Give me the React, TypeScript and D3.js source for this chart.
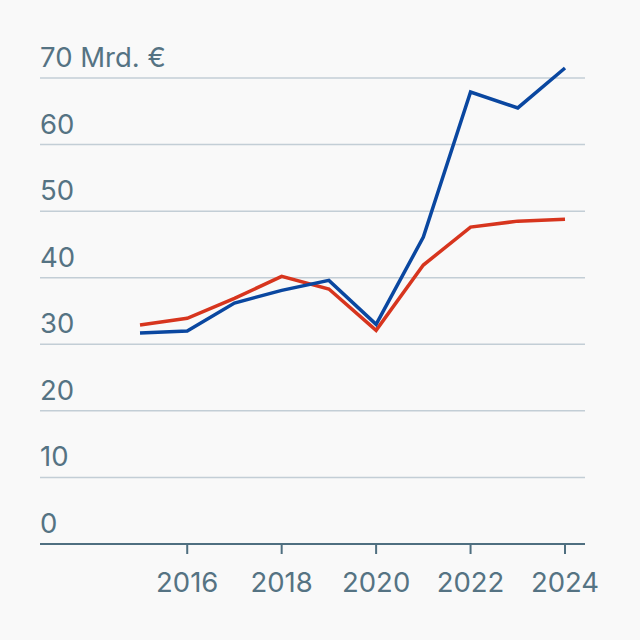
import * as d3 from 'd3';

const years = [2015, 2016, 2017, 2018, 2019, 2020, 2021, 2022, 2023, 2024];
const blueValues = [31.7, 32.0, 36.2, 38.1, 39.6, 33.0, 46.1, 67.9, 65.5, 71.5];
const redValues = [32.9, 33.9, 36.9, 40.2, 38.3, 32.1, 41.9, 47.6, 48.5, 48.8];
const yTicks = [0, 10, 20, 30, 40, 50, 60, 70];
const xTicks = [2016, 2018, 2020, 2022, 2024];

const W = 640;
const H = 640;
const left = 40;
const right = 585;

const App = () => {
  const x = d3.scaleLinear().domain([2015, 2024]).range([140, 565]);
  const y = d3.scaleLinear().domain([0, 70]).range([544, 78]);

  const line = d3
    .line<number>()
    .x((_, i) => x(years[i]))
    .y((d) => y(d));

  const textColor = '#557383';

  return (
    <svg
      width={W}
      height={H}
      style={{ position: 'fixed', top: 0, left: 0, background: '#f9f9f9' }}
      fontFamily='Inter, "Noto Sans", sans-serif'
    >
      {/* grid */}
      {yTicks.map((t) => (
        <g key={t}>
          {t > 0 && (
            <line x1={left} x2={right} y1={y(t)} y2={y(t)} stroke='#c3ced6' strokeWidth={1.5} />
          )}
          <text x={left} y={y(t) - 11} fontSize={27.5} fill={textColor}>
            {t === 70 ? '70 Mrd. €' : t}
          </text>
        </g>
      ))}

      {/* x axis */}
      <line x1={left} x2={right} y1={y(0)} y2={y(0)} stroke='#4f6f80' strokeWidth={2} />
      {xTicks.map((t) => (
        <g key={t}>
          <line x1={x(t)} x2={x(t)} y1={y(0)} y2={y(0) + 10} stroke='#4f6f80' strokeWidth={2} />
          <text x={x(t)} y={592} fontSize={27.5} fill={textColor} textAnchor='middle'>
            {t}
          </text>
        </g>
      ))}

      <path d={line(redValues) || ''} fill='none' stroke='#d7351e' strokeWidth={3.5} />
      <path d={line(blueValues) || ''} fill='none' stroke='#0a47a0' strokeWidth={3.5} />
    </svg>
  );
};

export default App;
